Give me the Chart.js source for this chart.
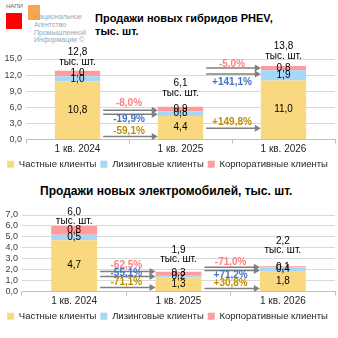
<!DOCTYPE html>
<html>
<head>
<meta charset="utf-8">
<script src="https://cdn.jsdelivr.net/npm/chart.js@4.4.1/dist/chart.umd.min.js"></script>
<style>
  body { margin: 0; width: 338px; height: 338px; background: #fff; position: relative; overflow: hidden; font-family: "Liberation Sans", Arial, sans-serif; }
  .title { position: absolute; font-weight: bold; font-size: 12px; line-height: 13px; color: #000; white-space: nowrap; }
  .wrap { position: absolute; left: 0; width: 338px; }
  #logoRed { position: absolute; left: 6px; top: 13px; width: 16px; height: 16px; background: #ff0000; }
  #logoOrange { position: absolute; left: 28px; top: 5px; width: 12px; height: 15px; background: rgba(245, 150, 50, 0.85); }
  #logoAbbr { position: absolute; left: 6px; top: 3px; font-size: 6px; color: #666; }
  #logoText { position: absolute; left: 34px; top: 13px; font-size: 7px; line-height: 7.8px; color: #9aa5b8; white-space: nowrap; }
</style>
</head>
<body>
<div id="logoAbbr">НАПИ</div>
<div id="logoRed"></div>
<div id="logoText">Национальное<br>Агентство<br>Промышленной<br>Информации ©</div>
<div id="logoOrange"></div>

<div class="title" style="left:95px; top:12px; font-size:11px;">Продажи новых гибридов PHEV,<br>тыс. шт.</div>
<div class="wrap" style="top:40px;"><canvas id="phev" width="338" height="139"></canvas></div>

<div class="title" style="left:40px; top:185px;">Продажи новых электромобилей, тыс. шт.</div>
<div class="wrap" style="top:200px;"><canvas id="ev" width="338" height="131"></canvas></div>

<script>
const quarters = ['1 кв. 2024', '1 кв. 2025', '1 кв. 2026'];
const seriesNames = ['Частные клиенты', 'Лизинговые клиенты', 'Корпоративные клиенты'];
const seriesColors = ['#f9d87f', '#a5d8f8', '#ff9b9b'];
const changeColors = ['#ff7f7f', '#4472c4', '#bf8f00']; // corporate, leasing, private

// PHEV, тыс. шт.
const phevPrivate = [10.8, 4.4, 11.0];
const phevLeasing = [1.0, 0.8, 1.9];
const phevCorporate = [1.0, 0.9, 0.8];
const phevTotal = [12.8, 6.1, 13.8];
const phevChangeCorporate = [-8.0, -5.0];
const phevChangeLeasing = [-19.9, 141.1];
const phevChangePrivate = [-59.1, 149.8];
const phevTicks = [0, 3, 6, 9, 12, 15];

// электромобили, тыс. шт.
const evPrivate = [4.7, 1.3, 1.8];
const evLeasing = [0.5, 0.2, 0.4];
const evCorporate = [0.8, 0.3, 0.1];
const evTotal = [6.0, 1.9, 2.2];
const evChangeCorporate = [-62.5, -71.0];
const evChangeLeasing = [-55.1, 71.2];
const evChangePrivate = [-71.1, 30.8];
const evTicks = [0, 1, 2, 3, 4, 5, 6, 7];

const FONT = '"Liberation Sans", Arial, sans-serif';
const fmt = v => v.toFixed(1).replace('.', ',');
const fmtPct = v => (v > 0 ? '+' : '') + v.toFixed(1).replace('.', ',') + '%';

// values inside the segments, totals above, arrows with % change between bars
const barNotes = {
  id: 'barNotes',
  afterDatasetsDraw(chart, args, opts) {
    const ctx = chart.ctx;
    const ys = chart.scales.y;
    const metas = chart.data.datasets.map((d, i) => chart.getDatasetMeta(i));
    ctx.save();
    ctx.textAlign = 'center';
    ctx.textBaseline = 'middle';
    ctx.fillStyle = '#000';
    ctx.font = '10px ' + FONT;
    metas.forEach((meta, i) => {
      meta.data.forEach((bar, j) => {
        ctx.fillText(fmt(chart.data.datasets[i].data[j]), bar.x, (bar.y + bar.base) / 2);
      });
    });

    const tops = metas[metas.length - 1].data;
    opts.totals.forEach((t, j) => {
      const b = tops[j];
      const yUnit = b.y + opts.lift[j];
      ctx.fillText(fmt(t), b.x, yUnit - opts.lineGap);
      ctx.fillText('тыс. шт.', b.x, yUnit);
    });

    opts.changes.forEach((gap, g) => {
      const a = tops[g], b = tops[g + 1];
      const x0 = a.x + a.width / 2 + 3;
      const x1 = b.x - b.width / 2;
      const xm = (a.x + a.width / 2 + x1) / 2;
      gap.forEach((c, k) => {
        const ya = ys.getPixelForValue(opts.arrowAt[g][k]);
        ctx.strokeStyle = '#7f7f7f';
        ctx.fillStyle = '#7f7f7f';
        ctx.lineWidth = 1.5;
        ctx.beginPath();
        ctx.moveTo(x0, ya);
        ctx.lineTo(x1 - 5, ya);
        ctx.stroke();
        ctx.beginPath();
        ctx.moveTo(x1, ya);
        ctx.lineTo(x1 - 6, ya - 3.5);
        ctx.lineTo(x1 - 6, ya + 3.5);
        ctx.closePath();
        ctx.fill();
        ctx.font = 'bold 10px ' + FONT;
        ctx.fillStyle = changeColors[k];
        ctx.fillText(fmtPct(c), xm, ys.getPixelForValue(opts.labelAt[g][k]));
      });
    });
    ctx.restore();
  }
};

function makeChart(id, priv, leas, corp, ticks, axisWidth, padTop, notes) {
  return new Chart(document.getElementById(id), {
    type: 'bar',
    data: {
      labels: quarters,
      datasets: [
        { label: seriesNames[0], data: priv, backgroundColor: seriesColors[0] },
        { label: seriesNames[1], data: leas, backgroundColor: seriesColors[1] },
        { label: seriesNames[2], data: corp, backgroundColor: seriesColors[2] }
      ]
    },
    options: {
      responsive: false,
      animation: false,
      barPercentage: 0.44,
      categoryPercentage: 1,
      layout: { padding: { top: padTop, right: 3, left: 0, bottom: 0 } },
      scales: {
        x: {
          stacked: true,
          grid: { drawOnChartArea: false, tickLength: 4, color: '#bfbfbf', offset: true },
          border: { color: '#bfbfbf' },
          ticks: { font: { size: 10, family: FONT }, color: '#262626', padding: 0 }
        },
        y: {
          stacked: true,
          min: ticks[0],
          max: ticks[ticks.length - 1],
          afterBuildTicks: s => { s.ticks = ticks.map(v => ({ value: v })); },
          afterFit: s => { s.width = axisWidth; },
          grid: { color: '#d9d9d9', drawTicks: false },
          border: { display: false },
          ticks: { autoSkip: false, callback: v => fmt(v), font: { size: 9, family: FONT }, color: '#404040', padding: 4 }
        }
      },
      plugins: {
        legend: {
          position: 'bottom',
          labels: { boxWidth: 7, boxHeight: 7, padding: 4, font: { size: 9.5, family: FONT }, color: '#262626' }
        },
        tooltip: { enabled: false },
        barNotes: notes
      }
    },
    plugins: [barNotes]
  });
}

makeChart('phev', phevPrivate, phevLeasing, phevCorporate, phevTicks, 26, 19, {
  totals: phevTotal,
  lift: [-9, -13.5, -10],
  lineGap: 10,
  changes: [0, 1].map(g => [phevChangeCorporate[g], phevChangeLeasing[g], phevChangePrivate[g]]),
  arrowAt: [[5.44, 4.69, 0.56], [13.3, 12.2, 2.1]],
  labelAt: [[6.75, 3.75, 1.5], [14.06, 10.69, 3.19]]
});

makeChart('ev', evPrivate, evLeasing, evCorporate, evTicks, 22, 15, {
  totals: evTotal,
  lift: [-4.5, -12.7, -16],
  lineGap: 9,
  changes: [0, 1].map(g => [evChangeCorporate[g], evChangeLeasing[g], evChangePrivate[g]]),
  arrowAt: [[1.84, 1.38, 0.37], [2.21, 1.93, 0.28]],
  labelAt: [[2.39, 1.66, 0.83], [2.67, 1.47, 0.74]]
});
</script>
</body>
</html>
